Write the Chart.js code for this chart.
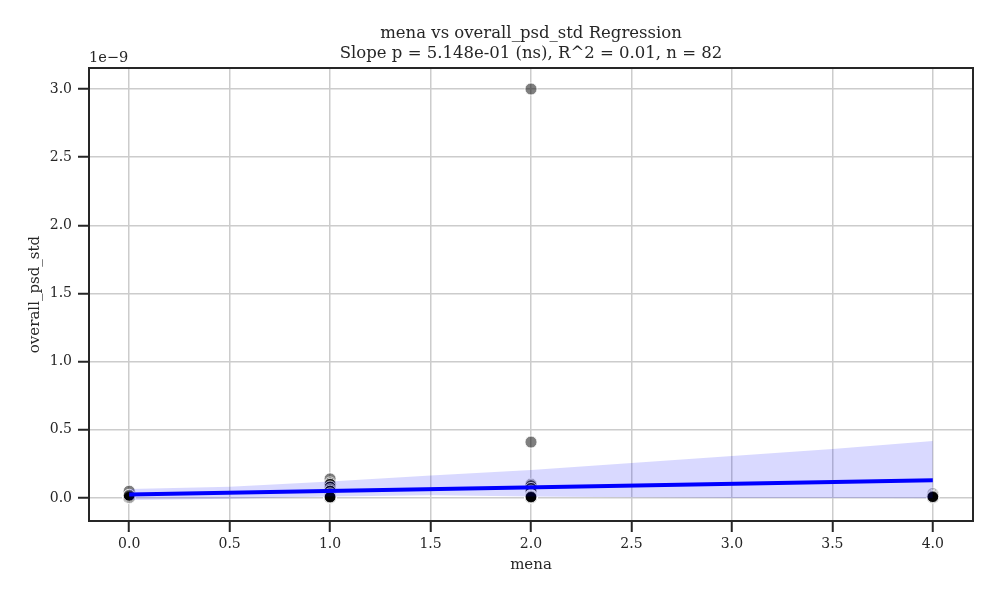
<!DOCTYPE html>
<html>
<head>
<meta charset="utf-8">
<script src="https://cdn.jsdelivr.net/npm/chart.js@4/dist/chart.umd.min.js"></script>
<style>
  html, body { margin: 0; padding: 0; background: #fff; }
  #wrap { width: 1000px; height: 600px; }
</style>
</head>
<body>
<div id="wrap"><canvas id="regChart" width="1000" height="600"></canvas></div>
<script>
// values are in units of 1e-9
const titleLines = ['mena vs overall_psd_std Regression', 'Slope p = 5.148e-01 (ns), R^2 = 0.01, n = 82'];
const xLabel = 'mena';
const yLabel = 'overall_psd_std';
const yOffsetText = '1e\u22129';

const xTicks = [0, 0.5, 1, 1.5, 2, 2.5, 3, 3.5, 4];
const yTicks = [0, 0.5, 1, 1.5, 2, 2.5, 3];

// scatter groups, one per mena value
const yAt0 = [0.05, 0.012, 0.008, 0.006, 0.005, 0.004, 0.010, 0.003, 0.007, 0.002,
              0.009, 0.015, 0.011, 0.006, 0.004, 0.008, 0.003, 0.005, 0.013, 0.020];
const yAt1 = [0.14, 0.11, 0.10, 0.08, 0.06, 0.05, 0.03, 0.02, 0.015, 0.012,
              0.010, 0.008, 0.006, 0.005, 0.004, 0.003, 0.007, 0.009, 0.011, 0.004,
              0.002, 0.006, 0.013, 0.018, 0.005, 0.003, 0.008, 0.010, 0.004, 0.007];
const yAt2 = [3.0, 0.41, 0.10, 0.09, 0.07, 0.05, 0.02, 0.015, 0.012, 0.010,
              0.008, 0.006, 0.005, 0.004, 0.003, 0.007, 0.009, 0.011, 0.004, 0.002,
              0.006, 0.013, 0.005, 0.003, 0.008];
const yAt4 = [0.03, 0.02, 0.012, 0.008, 0.005, 0.004, 0.010];

// fitted line and confidence band
const fitX = [0, 4];
const fitY = [0.025, 0.13];
const bandX = [0, 0.5, 1, 1.5, 2, 2.5, 3, 3.5, 4];
const bandUpper = [0.066, 0.083, 0.12, 0.165, 0.205, 0.257, 0.308, 0.36, 0.418];
const bandLower = [-0.015, -0.005, 0.01, 0.02, 0.01, 0.005, 0.0, -0.001, -0.002];

const fontFamily = "'DejaVu Serif', 'Liberation Serif', serif";
const ink = '#262626';

function toPoints(xs, ys) {
    return ys.map((y, i) => ({ x: xs[i], y: y }));
}

const scatterPoints = []
    .concat(yAt0.map(y => ({ x: 0, y: y })))
    .concat(yAt1.map(y => ({ x: 1, y: y })))
    .concat(yAt2.map(y => ({ x: 2, y: y })))
    .concat(yAt4.map(y => ({ x: 4, y: y })));

// top/right spines + the offset text above the y axis
const framePlugin = {
    id: 'frame',
    afterDraw(chart) {
        const { ctx, chartArea: a } = chart;
        ctx.save();
        ctx.strokeStyle = ink;
        ctx.lineWidth = 2;
        ctx.strokeRect(a.left, a.top, a.right - a.left, a.bottom - a.top);
        ctx.fillStyle = ink;
        ctx.font = '14.5px ' + fontFamily;
        ctx.textAlign = 'left';
        ctx.textBaseline = 'bottom';
        ctx.fillText(yOffsetText, a.left, a.top - 3);
        ctx.restore();
    }
};

new Chart(document.getElementById('regChart'), {
    type: 'scatter',
    data: {
        datasets: [
            {
                type: 'line',
                label: 'fit',
                data: toPoints(fitX, fitY),
                borderColor: '#0000ff',
                borderWidth: 4,
                pointRadius: 0,
                fill: false,
                order: 0
            },
            {
                type: 'line',
                label: 'ci upper',
                data: toPoints(bandX, bandUpper),
                borderWidth: 0,
                borderColor: 'rgba(0,0,0,0)',
                backgroundColor: 'rgba(0,0,255,0.15)',
                pointRadius: 0,
                fill: '+1',
                order: 1
            },
            {
                type: 'line',
                label: 'ci lower',
                data: toPoints(bandX, bandLower),
                borderWidth: 0,
                borderColor: 'rgba(0,0,0,0)',
                pointRadius: 0,
                fill: false,
                order: 1
            },
            {
                label: 'points',
                data: scatterPoints,
                backgroundColor: 'rgba(0,0,0,0.5)',
                borderColor: 'rgba(255,255,255,0.8)',
                borderWidth: 1,
                pointRadius: 6,
                order: 2
            }
        ]
    },
    options: {
        responsive: false,
        animation: false,
        devicePixelRatio: 1,
        layout: { padding: { left: 0, right: 27, top: 0, bottom: 0 } },
        plugins: {
            legend: { display: false },
            tooltip: { enabled: false },
            title: {
                display: true,
                fullSize: false,
                text: titleLines,
                color: ink,
                font: { family: fontFamily, size: 16.5, weight: 'normal', lineHeight: 1.2 },
                padding: { top: 24, bottom: 4.4 }
            }
        },
        scales: {
            x: {
                type: 'linear',
                min: -0.2,
                max: 4.2,
                afterBuildTicks: scale => { scale.ticks = xTicks.map(v => ({ value: v })); },
                afterFit: scale => { scale.height = 79; },
                ticks: {
                    callback: v => Number(v).toFixed(1),
                    color: ink,
                    font: { family: fontFamily, size: 14 },
                    padding: 4,
                    maxRotation: 0
                },
                grid: { color: '#cccccc', lineWidth: 1.5, tickColor: ink, tickWidth: 2, tickLength: 11 },
                border: { display: true, color: ink, width: 2 },
                title: {
                    display: true,
                    text: xLabel,
                    color: ink,
                    font: { family: fontFamily, size: 15 },
                    padding: { top: 0, bottom: 26 }
                }
            },
            y: {
                type: 'linear',
                min: -0.169,
                max: 3.154,
                afterBuildTicks: scale => { scale.ticks = yTicks.map(v => ({ value: v })); },
                afterFit: scale => { scale.width = 89; },
                ticks: {
                    callback: v => Number(v).toFixed(1),
                    color: ink,
                    font: { family: fontFamily, size: 14 },
                    padding: 6
                },
                grid: { color: '#cccccc', lineWidth: 1.5, tickColor: ink, tickWidth: 2, tickLength: 11 },
                border: { display: true, color: ink, width: 2 },
                title: {
                    display: true,
                    text: yLabel,
                    color: ink,
                    font: { family: fontFamily, size: 15 },
                    padding: { top: 26, bottom: 0 }
                }
            }
        }
    },
    plugins: [framePlugin]
});
</script>
</body>
</html>
